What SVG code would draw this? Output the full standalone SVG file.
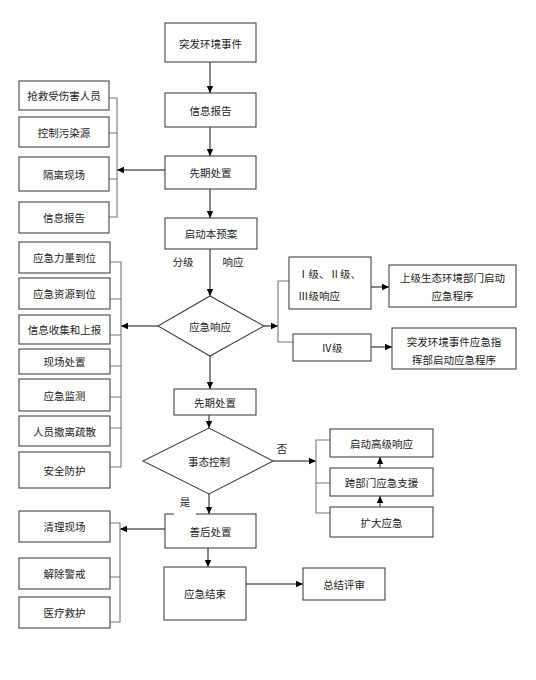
<svg xmlns="http://www.w3.org/2000/svg" width="536" height="680" viewBox="0 0 536 680">
<style>
.box{fill:#fff;stroke:#444;stroke-width:1.1}
.t{font-family:"Noto Sans CJK SC","Noto Sans",sans-serif;font-size:10.5px;fill:#222;text-anchor:middle;dominant-baseline:central}
.tl{text-anchor:start}
.c{fill:none;stroke:#111;stroke-width:1}
.br{fill:none;stroke:#777;stroke-width:1.1}
</style>
<defs>
<marker id="ah" markerUnits="userSpaceOnUse" markerWidth="8" markerHeight="8" refX="7" refY="4" orient="auto">
<path d="M0,0.8 L7,4 L0,7.2 Z" fill="#000"/>
</marker>
</defs>
<rect width="536" height="680" fill="#fff"/>

<g id="connectors">
<path class="c" d="M210,62 V93" marker-end="url(#ah)"/>
<path class="c" d="M210,127 V156" marker-end="url(#ah)"/>
<path class="c" d="M210,189 V218" marker-end="url(#ah)"/>
<path class="c" d="M165,170 H117" marker-end="url(#ah)"/>
<path class="br" d="M109,98 H117 V217 H109 M109,133 H117 M109,179 H117"/>
<path class="c" d="M210,249 V296" marker-end="url(#ah)"/>
<path class="c" d="M158,326 H121" marker-end="url(#ah)"/>
<path class="br" d="M110,262 H121 V467 H110 M110,299 H121 M110,335 H121 M110,366 H121 M110,397 H121 M110,428 H121"/>
<path class="c" d="M264,326 H278" marker-end="url(#ah)"/>
<path class="br" d="M289,281 H278 V342 H293"/>
<path class="c" d="M371,287 H389" marker-end="url(#ah)"/>
<path class="c" d="M371,347 H392" marker-end="url(#ah)"/>
<path class="c" d="M210,356 V389" marker-end="url(#ah)"/>
<path class="c" d="M209,415 V428" marker-end="url(#ah)"/>
<path class="c" d="M273,461 H316" marker-end="url(#ah)"/>
<path class="br" d="M330,440 H316 V513 H330 M316,483 H330"/>
<path class="c" d="M380,507 V496" marker-end="url(#ah)"/>
<path class="c" d="M380,468 V457" marker-end="url(#ah)"/>
<path class="c" d="M209,494 V514" marker-end="url(#ah)"/>
<path class="c" d="M165,529 H120" marker-end="url(#ah)"/>
<path class="br" d="M110,523 H120 V622 H110 M110,577 H120"/>
<path class="c" d="M208,548 V567" marker-end="url(#ah)"/>
<path class="c" d="M246,584 H303" marker-end="url(#ah)"/>
</g>

<g id="n-event"><rect class="box" x="165" y="23" width="91" height="39"/><text class="t" x="210.5" y="43">突发环境事件</text></g>
<g id="n-report"><rect class="box" x="165" y="93" width="91" height="34"/><text class="t" x="210.5" y="110">信息报告</text></g>
<g id="n-early1"><rect class="box" x="165" y="156" width="91" height="33"/><text class="t" x="210.5" y="172.5">先期处置</text></g>
<g id="n-plan"><rect class="box" x="165" y="218" width="92" height="31"/><text class="t" x="211" y="233.5">启动本预案</text></g>

<g id="l-rescue"><rect class="box" x="19" y="81" width="90" height="29"/><text class="t" x="64" y="95.5">抢救受伤害人员</text></g>
<g id="l-control"><rect class="box" x="19" y="117" width="90" height="30"/><text class="t" x="64" y="132">控制污染源</text></g>
<g id="l-isolate"><rect class="box" x="19" y="157" width="90" height="34"/><text class="t" x="64" y="174">隔离现场</text></g>
<g id="l-report"><rect class="box" x="19" y="202" width="90" height="31"/><text class="t" x="64" y="217.5">信息报告</text></g>

<g id="l-force"><rect class="box" x="19" y="242" width="91" height="31"/><text class="t" x="64.5" y="257.5">应急力量到位</text></g>
<g id="l-resource"><rect class="box" x="19" y="278" width="91" height="31"/><text class="t" x="64.5" y="293.5">应急资源到位</text></g>
<g id="l-info"><rect class="box" x="19" y="315" width="91" height="29"/><text class="t" x="64.5" y="329.5">信息收集和上报</text></g>
<g id="l-site"><rect class="box" x="19" y="349" width="91" height="25"/><text class="t" x="64.5" y="361.5">现场处置</text></g>
<g id="l-monitor"><rect class="box" x="19" y="379" width="91" height="32"/><text class="t" x="64.5" y="395">应急监测</text></g>
<g id="l-evac"><rect class="box" x="19" y="416" width="91" height="30"/><text class="t" x="64.5" y="431">人员撤离疏散</text></g>
<g id="l-safety"><rect class="box" x="19" y="452" width="91" height="36"/><text class="t" x="64.5" y="470">安全防护</text></g>

<g id="lbl-grade"><text class="t" x="183" y="261">分级</text><text class="t" x="233" y="261">响应</text></g>

<g id="d-response"><polygon class="box" points="158,326 210,296 264,326 210,356"/><text class="t" x="210" y="326">应急响应</text></g>

<g id="n-level123"><rect class="box" x="289" y="257" width="82" height="52"/><text class="t tl" x="298" y="273">Ⅰ级、Ⅱ级、</text><text class="t tl" x="298" y="295">Ⅲ级响应</text></g>
<g id="n-upper"><rect class="box" x="389" y="265" width="127" height="42"/><text class="t" x="452.5" y="277.5">上级生态环境部门启动</text><text class="t" x="452.5" y="295">应急程序</text></g>
<g id="n-level4"><rect class="box" x="293" y="334" width="78" height="27"/><text class="t" x="332" y="347">Ⅳ级</text></g>
<g id="n-hq"><rect class="box" x="392" y="328" width="124" height="41"/><text class="t" x="454" y="341.5">突发环境事件应急指</text><text class="t" x="454" y="359">挥部启动应急程序</text></g>

<g id="n-early2"><rect class="box" x="174" y="389" width="82" height="26"/><text class="t" x="215" y="402">先期处置</text></g>

<g id="d-control"><polygon class="box" points="143,461 209,428 273,461 209,494"/><text class="t" x="209" y="461">事态控制</text></g>

<g id="lbl-no"><text class="t" x="282" y="448">否</text></g>

<g id="r-high"><rect class="box" x="330" y="429" width="103" height="28"/><text class="t" x="381.5" y="443">启动高级响应</text></g>
<g id="r-cross"><rect class="box" x="330" y="468" width="103" height="28"/><text class="t" x="381.5" y="482">跨部门应急支援</text></g>
<g id="r-expand"><rect class="box" x="330" y="507" width="103" height="30"/><text class="t" x="381.5" y="522">扩大应急</text></g>

<g id="n-after"><rect class="box" x="165" y="514" width="91" height="34"/><text class="t" x="210.5" y="531">善后处置</text></g>
<g id="lbl-yes"><rect x="174" y="492" width="22" height="23" fill="#fff"/><text class="t" x="185" y="501">是</text></g>

<g id="n-end"><rect class="box" x="164" y="567" width="82" height="53"/><text class="t" x="205" y="593.5">应急结束</text></g>
<g id="n-review"><rect class="box" x="303" y="568" width="82" height="32"/><text class="t" x="344" y="584">总结评审</text></g>

<g id="l-clean"><rect class="box" x="19" y="511" width="91" height="31"/><text class="t" x="64.5" y="526.5">清理现场</text></g>
<g id="l-alert"><rect class="box" x="19" y="558" width="91" height="31"/><text class="t" x="64.5" y="573.5">解除警戒</text></g>
<g id="l-medical"><rect class="box" x="19" y="597" width="91" height="31"/><text class="t" x="64.5" y="612.5">医疗救护</text></g>
</svg>
